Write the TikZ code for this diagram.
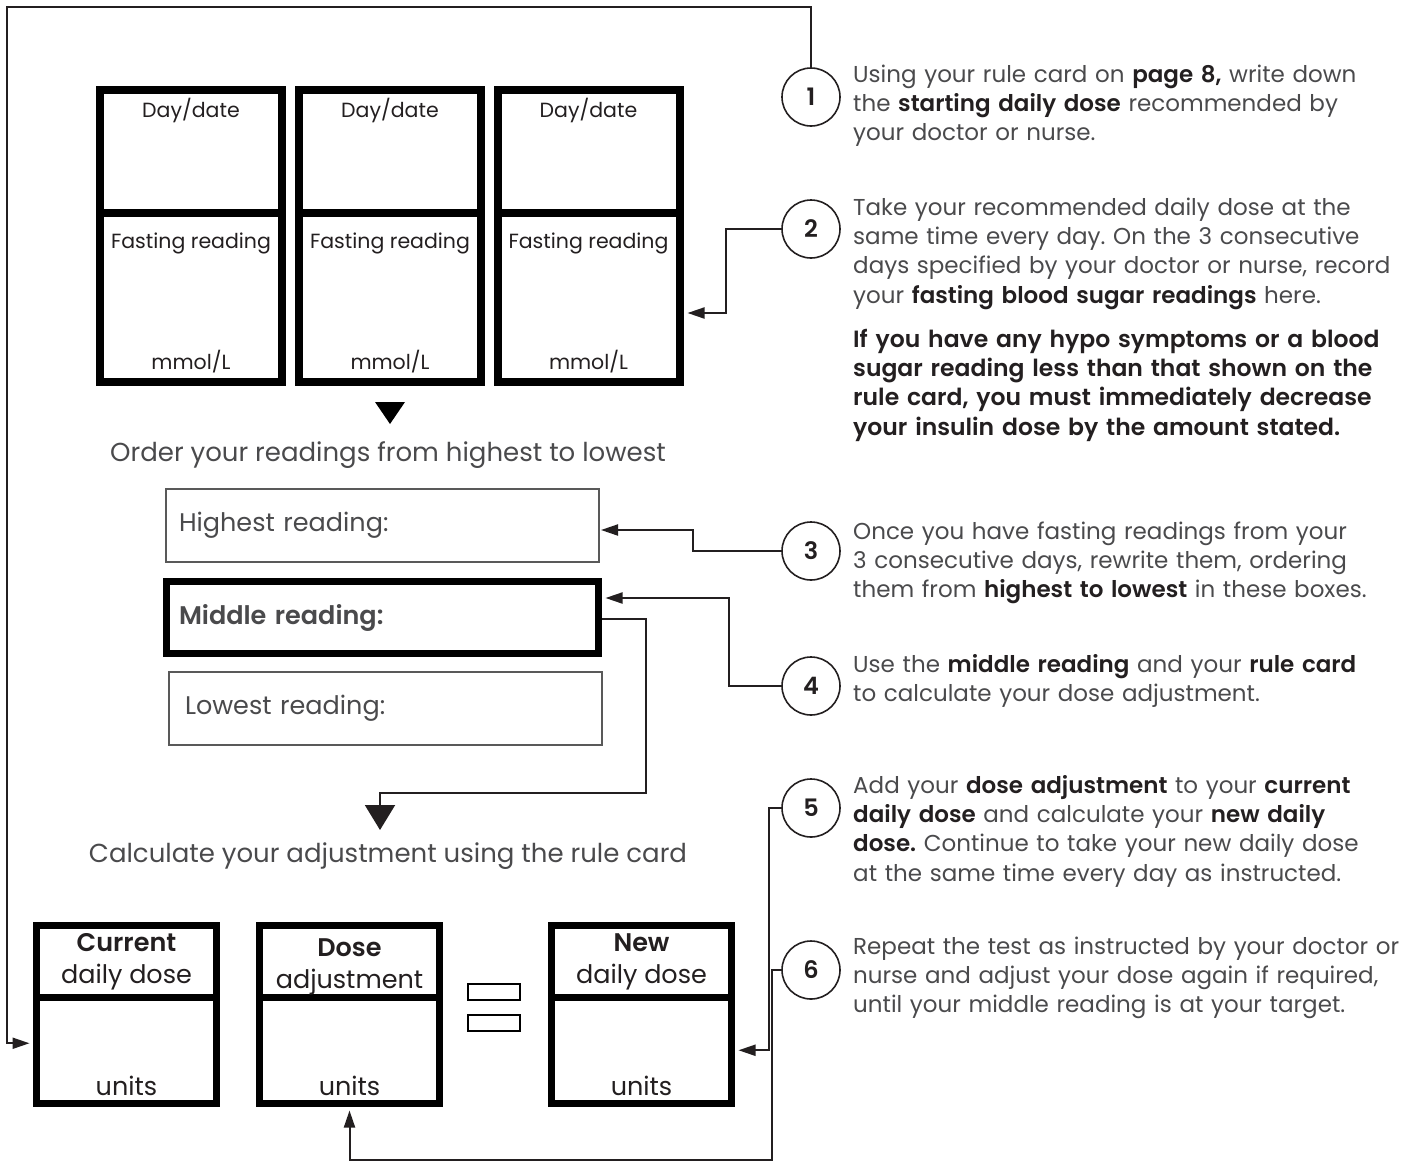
\documentclass[tikz,border=0pt]{standalone}
\usepackage{fontspec}
\setmainfont{Poppins}[BoldFont={Poppins SemiBold}]
\usetikzlibrary{positioning,arrows.meta}
\frenchspacing

\definecolor{inkgray}{HTML}{4A4A4C}
\definecolor{inkdark}{HTML}{231F20}
\newcommand{\keyw}[1]{{\bfseries\color{inkdark}#1}}

\begin{document}
\begin{tikzpicture}[x=1pt,y=-1pt,
    every node/.style={inner sep=0pt},
    cellbox/.style={draw=black,line width=8pt,minimum width=182pt},
    dosebox/.style={draw=black,line width=7pt,minimum width=180pt},
    rowbox/.style={draw=black!65,line width=2pt,minimum width=433pt,minimum height=73pt,
      text width=407pt,align=left,font=\fontsize{25.5}{28}\selectfont,text=inkgray},
    stepnum/.style={circle,draw=inkdark,line width=1.6pt,minimum size=58pt,
      font=\fontsize{24}{24}\selectfont\bfseries,text=inkdark},
    stepnote/.style={anchor=base west,text width=580pt,align=left,
      font=\fontsize{23}{29.4}\selectfont,text=inkgray},
    celltext/.style={font=\fontsize{20.5}{22}\selectfont,text=inkdark},
    dosetext/.style={font=\fontsize{25.5}{32.5}\selectfont,text=inkdark,align=center},
    headline/.style={font=\fontsize{26}{30}\selectfont,text=inkgray},
    link/.style={draw=inkdark,line width=2pt,-{Triangle[length=17pt,width=11pt]}},
    eqbar/.style={draw=black,line width=2pt,minimum width=52pt,minimum height=16pt}
  ]

  \path[fill=white,use as bounding box] (0,0) rectangle (1413,1162);

  % reading cards
  \node[cellbox,minimum height=123pt] (dh1) at (191,151.5) {};
  \node[cellbox,minimum height=169pt] (dr1) at (191,297.5) {};
  \node[cellbox,minimum height=123pt] (dh2) at (390,151.5) {};
  \node[cellbox,minimum height=169pt] (dr2) at (390,297.5) {};
  \node[cellbox,minimum height=123pt] (dh3) at (588.5,151.5) {};
  \node[cellbox,minimum height=169pt] (dr3) at (588.5,297.5) {};

  \node[celltext,below=12pt of dh1.north] (day1) {Day/date};
  \node[celltext,below=12pt of dh2.north] (day2) {Day/date};
  \node[celltext,below=12pt of dh3.north] (day3) {Day/date};
  \node[celltext,below=23.5pt of dr1.north] (fast1) {Fasting reading};
  \node[celltext,below=23.5pt of dr2.north] (fast2) {Fasting reading};
  \node[celltext,below=23.5pt of dr3.north] (fast3) {Fasting reading};
  \node[celltext,above=13pt of dr1.south] (unit1) {mmol/L};
  \node[celltext,above=13pt of dr2.south] (unit2) {mmol/L};
  \node[celltext,above=13pt of dr3.south] (unit3) {mmol/L};

  \fill[black] (375,402) -- (405,402) -- (390,424) -- cycle;
  \node[headline] (ordertxt) at (388,455) {Order your readings from highest to lowest};

  % ordered readings
  \node[rowbox] (hi) at (382.5,525.5) {Highest reading:};
  \node[rowbox,draw=black,line width=7pt,minimum width=432pt,minimum height=72pt] (mid) at (382.5,617.5)
    {\bfseries Middle reading:};
  \node[rowbox,text width=400pt] (lo) at (385,708.5) {Lowest reading:};

  \node[headline] (calctxt) at (388,856) {Calculate your adjustment using the rule card};
  \coordinate (calctip) at (380,830);

  % dose cards
  \node[dosebox,minimum height=71.5pt] (curhead) at (126.5,961.25) {};
  \node[dosebox,minimum height=106.5pt] (curbody) at (126.5,1050.25) {};
  \node[dosebox,minimum height=71.5pt] (dosehead) at (349.5,961.25) {};
  \node[dosebox,minimum height=106.5pt] (dosebody) at (349.5,1050.25) {};
  \node[dosebox,minimum height=71.5pt] (newhead) at (641.5,961.25) {};
  \node[dosebox,minimum height=106.5pt] (newbody) at (641.5,1050.25) {};

  \node[dosetext,below=11pt of curhead.north] (curlabel) {\bfseries Current\\daily dose};
  \node[dosetext,below=16pt of dosehead.north] (doselabel) {\bfseries Dose\\adjustment};
  \node[dosetext,below=11pt of newhead.north] (newlabel) {\bfseries New\\daily dose};
  \node[dosetext,above=11pt of curbody.south] (curunits) {units};
  \node[dosetext,above=11pt of dosebody.south] (doseunits) {units};
  \node[dosetext,above=11pt of newbody.south] (newunits) {units};

  \node[eqbar] (eqtop) at (494,991.5) {};
  \node[eqbar] (eqbot) at (494,1023) {};

  % steps
  \node[stepnum] (step1) at (811,97) {1};
  \node[stepnum] (step2) at (811,229) {2};
  \node[stepnum] (step3) at (811,551) {3};
  \node[stepnum] (step4) at (811,686) {4};
  \node[stepnum] (step5) at (811,808) {5};
  \node[stepnum] (step6) at (811,970) {6};

  \node[stepnote] (note1) at (853,82) {Using your rule card on \keyw{page 8,} write down\\
    the \keyw{starting daily dose} recommended by\\ your doctor or nurse.};
  \node[stepnote] (note2) at (853,215) {Take your recommended daily dose at the\\
    same time every day. On the 3 consecutive\\ days specified by your doctor or nurse, record\\
    your \keyw{fasting blood sugar readings} here.};
  \node[stepnote,font=\fontsize{23.5}{29.4}\selectfont\bfseries,text=inkdark] (warn) at (853,347)
    {If you have any hypo symptoms or a blood\\ sugar reading less than that shown on the\\
    rule card, you must immediately decrease\\ your insulin dose by the amount stated.};
  \node[stepnote] (note3) at (853,539) {Once you have fasting readings from your\\
    3 consecutive days, rewrite them, ordering\\ them from \keyw{highest to lowest} in these boxes.};
  \node[stepnote] (note4) at (853,672) {Use the \keyw{middle reading} and your \keyw{rule card}\\
    to calculate your dose adjustment.};
  \node[stepnote] (note5) at (853,793) {Add your \keyw{dose adjustment} to your \keyw{current}\\
    \keyw{daily dose} and calculate your \keyw{new daily}\\ \keyw{dose.} Continue to take your new daily dose\\
    at the same time every day as instructed.};
  \node[stepnote] (note6) at (853,954) {Repeat the test as instructed by your doctor or\\
    nurse and adjust your dose again if required,\\ until your middle reading is at your target.};

  % connectors
  \coordinate (frame) at (7,7);
  \coordinate (loopcorner) at (772,1160);
  \draw[link] (step1.north) |- (frame) |- ([xshift=-3.5pt,yshift=7pt]curbody.west);
  \draw[link] (step2.west) -| ([xshift=42.5pt,yshift=-15.5pt]dr3.east) -- ([xshift=4pt,yshift=-15.5pt]dr3.east);
  \draw[link] (step3.west) -| ([xshift=93pt,yshift=-4.5pt]hi.east) -- ([xshift=1pt,yshift=-4.5pt]hi.east);
  \draw[link] (step4.west) -| ([xshift=126.5pt,yshift=19.5pt]mid.east) -- ([xshift=3.5pt,yshift=19.5pt]mid.east);
  \draw[link,-{Triangle[length=25pt,width=30pt]}] ([yshift=-1.5pt]mid.east) -| (646,793) -| (calctip);
  \draw[link] (step5.west) -| ([xshift=33.5pt]newbody.east) -- ([xshift=3.5pt]newbody.east);
  \draw[link] (step6.west) -| (loopcorner) -| ([yshift=-3.5pt]dosebody.south);

\end{tikzpicture}
\end{document}
